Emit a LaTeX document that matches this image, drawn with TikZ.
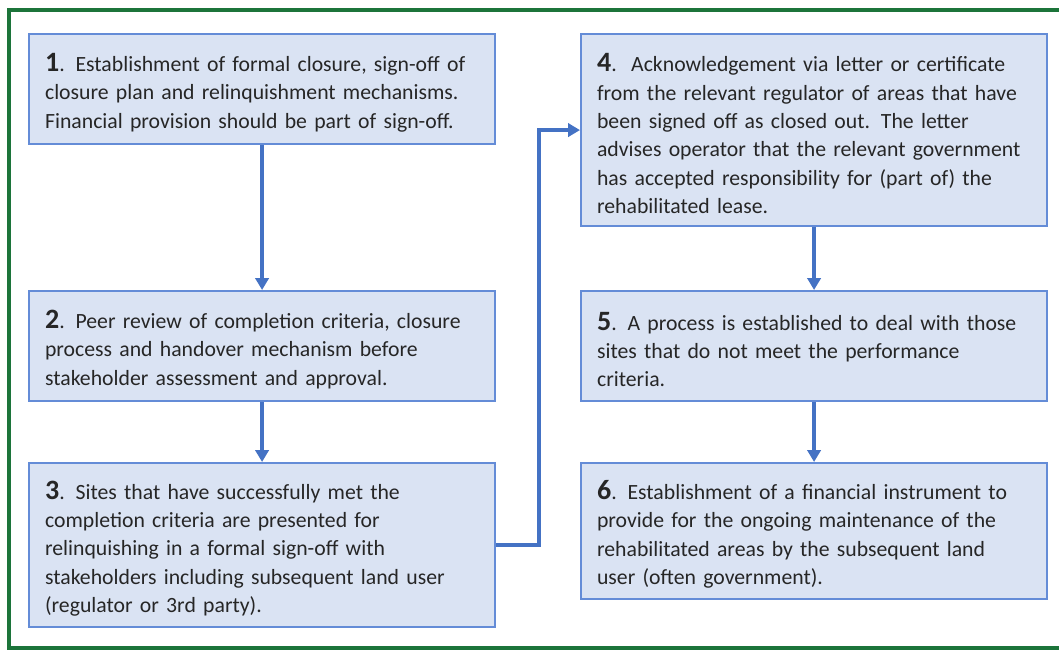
\documentclass[tikz,border=0pt]{standalone}
\usepackage{fontspec}
\setmainfont{Carlito}
\usepackage{xcolor}
\usetikzlibrary{arrows.meta, positioning, calc}
\definecolor{frameg}{RGB}{28, 116, 58}
\definecolor{boxfill}{RGB}{218, 227, 243}
\definecolor{boxline}{RGB}{100, 140, 215}
\definecolor{linkblue}{RGB}{68, 114, 196}
\definecolor{txt}{RGB}{38, 38, 38}
\newcommand{\stepno}[1]{\rule{0pt}{19pt}{\fontsize{21}{21}\selectfont\bfseries #1}}

\begin{document}
\begin{tikzpicture}[
    x=0.75pt, y=-0.75pt,
    box/.style={rectangle, draw=boxline, line width=1.6pt, fill=boxfill, anchor=north west,
        text width=325.5pt, inner xsep=12pt, inner ysep=0pt, align=left, text=txt,
        font=\fontsize{16.3}{21.2}\selectfont},
    arrow/.style={->, draw=linkblue, line width=2.5pt, >={Triangle[width=10pt, length=9pt]}}
]
    \useasboundingbox (0,0) rectangle (1059,651);
    \draw[frameg, line width=2.4pt] (9,10) rectangle (1075,648);

    \node[box, minimum height=82.5pt] (s1) at (28,33)
        {\stepno{1}. Establishment of formal closure, sign-off of\\closure plan and relinquishment mechanisms.\\Financial provision should be part of sign-off.};
    \node[box, minimum height=82.5pt] (s2) at (28,290)
        {\stepno{2}. Peer review of completion criteria, closure\\process and handover mechanism before\\stakeholder assessment and approval.};
    \node[box, minimum height=123pt] (s3) at (28,462)
        {\stepno{3}. Sites that have successfully met the\\completion criteria are presented for\\relinquishing in a formal sign-off with\\stakeholders including subsequent land user\\(regulator or 3rd party).};
    \node[box, minimum height=144pt] (s4) at (580,33)
        {\stepno{4}.\ \ Acknowledgement via letter or certificate\\from the relevant regulator of areas that have\\been signed off as closed out. The letter\\advises operator that the relevant government\\has accepted responsibility for (part of) the\\rehabilitated lease.};
    \node[box, minimum height=82.5pt] (s5) at (580,290)
        {\stepno{5}. A process is established to deal with those\\sites that do not meet the performance\\criteria.};
    \node[box, minimum height=102pt] (s6) at (580,462)
        {\stepno{6}. Establishment of a financial instrument to\\provide for the ongoing maintenance of the\\rehabilitated areas by the subsequent land\\user (often government).};

    \draw[arrow] (s1) -- (s2);
    \draw[arrow] (s2) -- (s3);
    \draw[arrow] (s3.east) -- ++(43,0) |- (s4.west);
    \draw[arrow] (s4) -- (s5);
    \draw[arrow] (s5) -- (s6);
\end{tikzpicture}
\end{document}
